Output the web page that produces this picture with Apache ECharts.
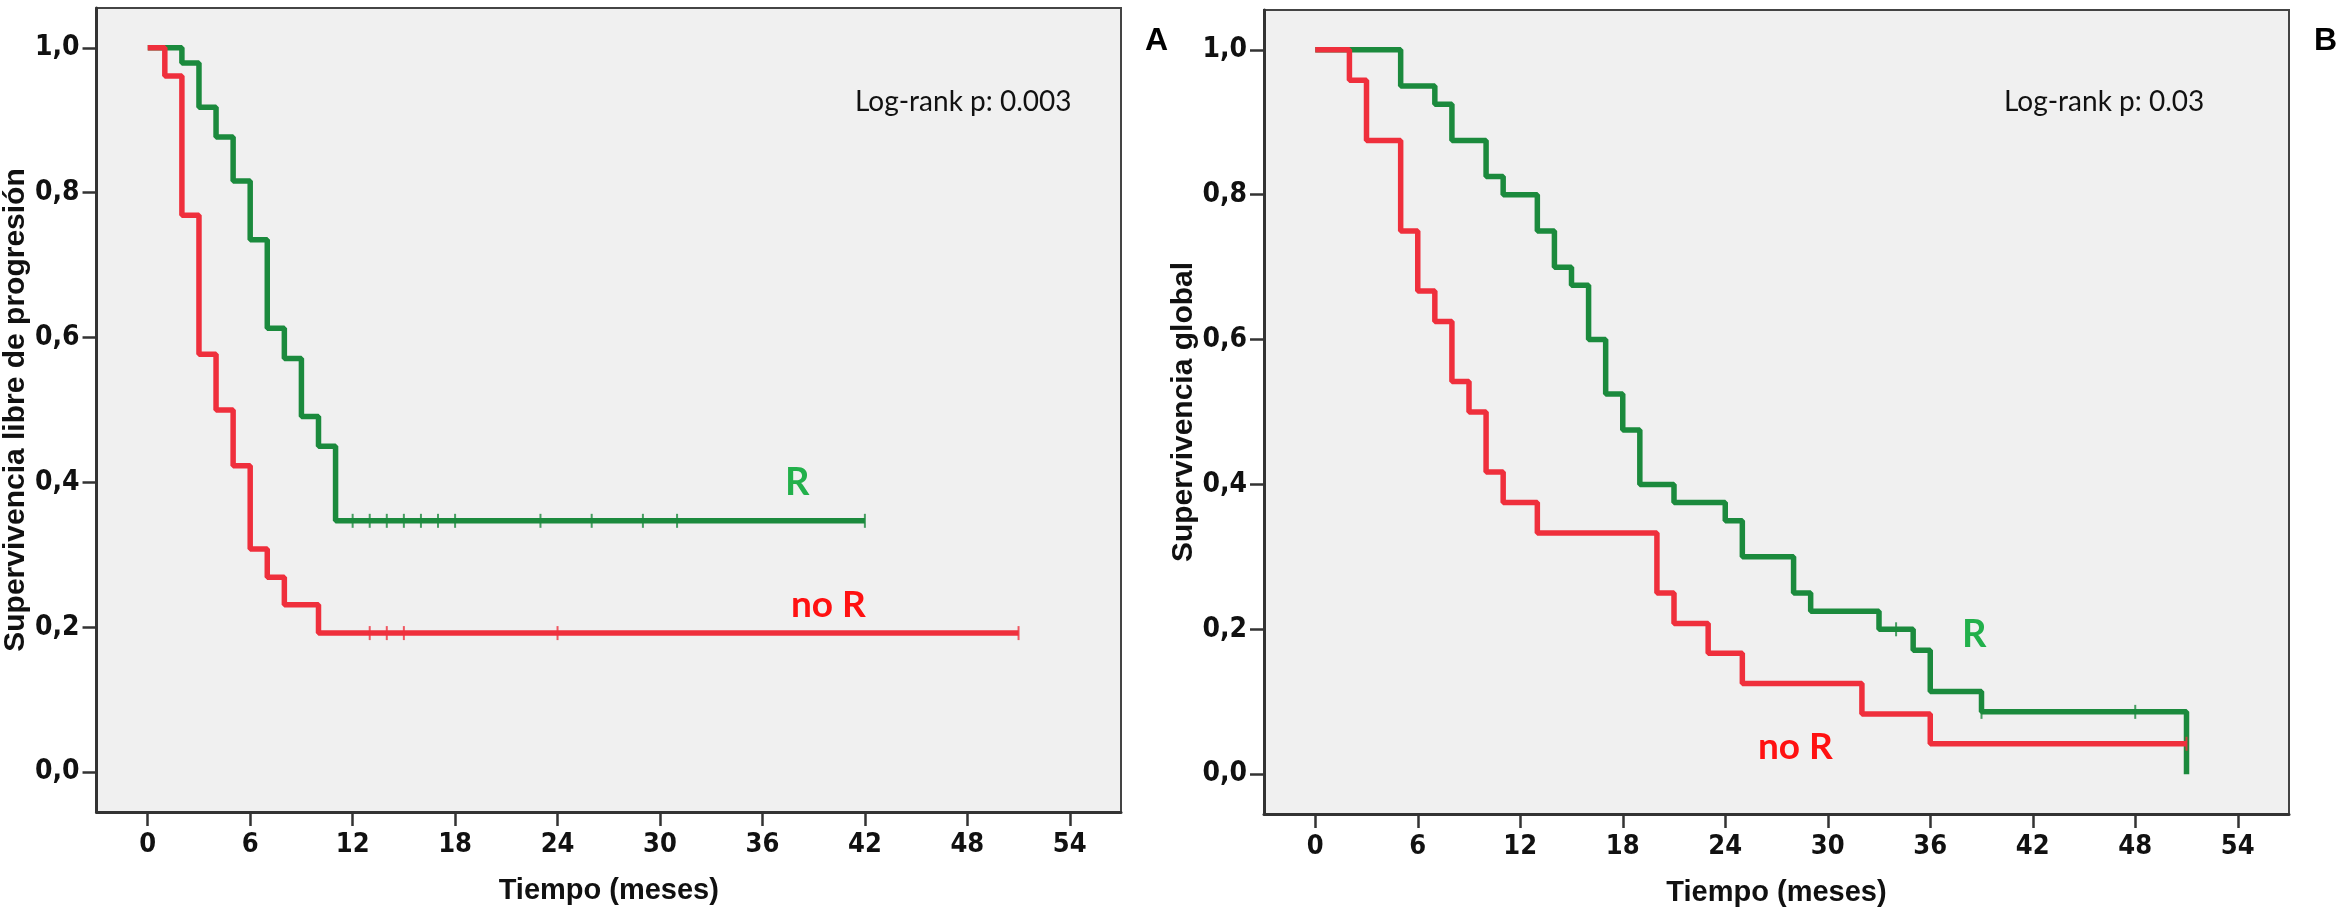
<!DOCTYPE html>
<html>
<head>
<meta charset="utf-8">
<script src="https://cdn.jsdelivr.net/npm/echarts@6/dist/echarts.min.js"></script>
<style>
html,body{margin:0;padding:0;background:#fff;}
#c{width:2341px;height:919px;}
</style>
</head>
<body>
<div id="c"></div>
<script>
// ---- Panel A: Supervivencia libre de progresión ----
const pfsR_times   = [0, 2, 3, 4, 5, 6, 7, 8, 9, 10, 11, 42];
const pfsR_values  = [1, 0.979, 0.918, 0.877, 0.816, 0.735, 0.613, 0.571, 0.491, 0.450, 0.347, 0.347];
const pfsR_censor  = [12, 13, 14, 15, 16, 17, 18, 23, 26, 29, 31, 42];
const pfsNR_times  = [0, 1, 2, 3, 4, 5, 6, 7, 8, 10, 51];
const pfsNR_values = [1, 0.961, 0.769, 0.577, 0.5, 0.423, 0.308, 0.269, 0.231, 0.192, 0.192];
const pfsNR_censor = [13, 14, 15, 24, 51];

// ---- Panel B: Supervivencia global ----
const osR_times   = [0, 5, 7, 8, 10, 11, 13, 14, 15, 16, 17, 18, 19, 21, 24, 25, 28, 29, 33, 35, 36, 39, 51];
const osR_values  = [1, 0.95, 0.925, 0.875, 0.825, 0.80, 0.75, 0.70, 0.675, 0.60, 0.525, 0.475, 0.40, 0.375, 0.35, 0.30, 0.25, 0.225, 0.20, 0.171, 0.114, 0.086, 0];
const osR_censor  = [34, 39, 48];
const osNR_times  = [0, 2, 3, 5, 6, 7, 8, 9, 10, 11, 13, 20, 21, 23, 25, 32, 36, 51];
const osNR_values = [1, 0.958, 0.875, 0.75, 0.667, 0.625, 0.542, 0.5, 0.417, 0.375, 0.333, 0.25, 0.208, 0.167, 0.125, 0.083, 0.042, 0.042];
const osNR_censor = [51];

const xTicks = [0, 6, 12, 18, 24, 30, 36, 42, 48, 54];
const yTicks = [0, 0.2, 0.4, 0.6, 0.8, 1.0];

const GREEN = '#1b8a3d', RED = '#ef2f3c';
const GREEN_TXT = '#22b04b', RED_TXT = '#ff1111';
const NARROW = "'Liberation Sans Narrow','Arial Narrow','DejaVu Sans Condensed',sans-serif";
const SANS = "'Liberation Sans',Arial,sans-serif";

function pairs(t, v) { return t.map((x, i) => [x, v[i]]); }
// survival level at each censoring time, read from the step data
function censorPts(times, values, cens, lastDropToZero) {
  return cens.map(c => {
    let s = values[0];
    for (let i = 0; i < times.length; i++) {
      if (times[i] < c) s = values[i];
      else if (times[i] === c && !(lastDropToZero && i === times.length - 1)) s = values[i];
    }
    return [c, s];
  });
}

function xAxisCfg(grid) {
  return {
    type: 'value', gridIndex: grid, min: -3, max: 57,
    name: 'Tiempo (meses)', nameLocation: 'middle', nameGap: 64,
    nameTextStyle: { fontFamily: SANS, fontWeight: 'bold', fontSize: 29, color: '#111' },
    axisLine: { show: true, onZero: false, lineStyle: { color: '#333', width: 3 } },
    axisTick: { show: true, customValues: xTicks, length: 14, lineStyle: { color: '#333', width: 2.5 } },
    axisLabel: { customValues: xTicks, margin: 19, fontFamily: NARROW, fontWeight: 'bold', fontSize: 27, color: '#111' },
    splitLine: { show: false }
  };
}
function yAxisCfg(grid, name) {
  return {
    type: 'value', gridIndex: grid, min: -0.055, max: 1.055,
    name: name, nameLocation: 'middle', nameGap: 54, nameRotate: 90,
    nameTextStyle: { fontFamily: SANS, fontWeight: 'bold', fontSize: 30, color: '#111' },
    axisLine: { show: true, onZero: false, lineStyle: { color: '#333', width: 3 } },
    axisTick: { show: true, customValues: yTicks, length: 14, lineStyle: { color: '#333', width: 2.5 } },
    axisLabel: { customValues: yTicks, margin: 17, fontFamily: NARROW, fontWeight: 'bold', fontSize: 28, color: '#111',
      formatter: v => v.toFixed(1).replace('.', ',') },
    splitLine: { show: false }
  };
}
function kmLine(xi, data, color) {
  return { type: 'line', xAxisIndex: xi, yAxisIndex: xi, step: 'end', data: data, showSymbol: false,
    lineStyle: { color: color, width: 5.5 }, itemStyle: { color: color }, silent: true, animation: false };
}
function censorSeries(xi, data, color) {
  return { type: 'scatter', xAxisIndex: xi, yAxisIndex: xi, data: data, symbol: 'rect', symbolSize: [2, 14],
    itemStyle: { color: color }, silent: true, animation: false, z: 3 };
}

const chart = echarts.init(document.getElementById('c'), null, { renderer: 'canvas' });
chart.setOption({
  animation: false,
  backgroundColor: '#ffffff',
  grid: [
    { left: 90, top: 8, width: 1031, height: 804, show: true, backgroundColor: '#f0f0f0', borderColor: '#444', borderWidth: 2 },
    { left: 1264, top: 10, width: 1025, height: 804, show: true, backgroundColor: '#f0f0f0', borderColor: '#444', borderWidth: 2 }
  ],
  xAxis: [xAxisCfg(0), xAxisCfg(1)],
  yAxis: [yAxisCfg(0, 'Supervivencia libre de progresión'), yAxisCfg(1, 'Supervivencia global')],
  series: [
    kmLine(0, pairs(pfsR_times, pfsR_values), GREEN),
    kmLine(0, pairs(pfsNR_times, pfsNR_values), RED),
    censorSeries(0, censorPts(pfsR_times, pfsR_values, pfsR_censor, false), GREEN),
    censorSeries(0, censorPts(pfsNR_times, pfsNR_values, pfsNR_censor, false), RED),
    kmLine(1, pairs(osR_times, osR_values), GREEN),
    kmLine(1, pairs(osNR_times, osNR_values), RED),
    censorSeries(1, censorPts(osR_times, osR_values, osR_censor, true), GREEN),
    censorSeries(1, censorPts(osNR_times, osNR_values, osNR_censor, false), RED)
  ],
  graphic: [
    { type: 'text', left: 1145, top: 25, style: { text: 'A', font: "bold 32px 'Liberation Sans', Arial, sans-serif", fill: '#000' } },
    { type: 'text', left: 2314, top: 25, style: { text: 'B', font: "bold 32px 'Liberation Sans', Arial, sans-serif", fill: '#000' } },
    { type: 'text', left: 855, top: 88, style: { text: 'Log-rank p: 0.003', font: "28px Lato, 'Open Sans', sans-serif", fill: '#111' } },
    { type: 'text', left: 2004, top: 88, style: { text: 'Log-rank p: 0.03', font: "28px Lato, 'Open Sans', sans-serif", fill: '#111' } },
    { type: 'text', left: 785, top: 464, style: { text: 'R', font: "bold 38px Lato, sans-serif", fill: GREEN_TXT } },
    { type: 'text', left: 791, top: 587, style: { text: 'no R', font: "bold 37px Lato, sans-serif", fill: RED_TXT } },
    { type: 'text', left: 1962, top: 616, style: { text: 'R', font: "bold 38px Lato, sans-serif", fill: GREEN_TXT } },
    { type: 'text', left: 1758, top: 729, style: { text: 'no R', font: "bold 37px Lato, sans-serif", fill: RED_TXT } }
  ]
});
</script>
</body>
</html>
